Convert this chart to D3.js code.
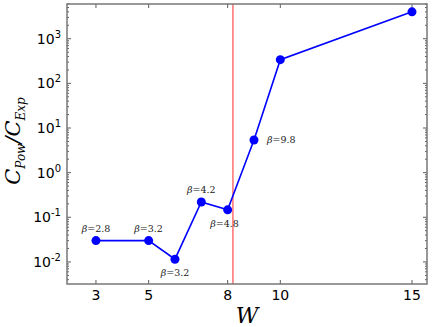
<!DOCTYPE html>
<html>
<head>
<meta charset="utf-8">
<script src="https://cdn.jsdelivr.net/npm/d3@7"></script>
<style>
body { margin: 0; background: #fff; }
svg { display: block; }
</style>
</head>
<body>
<div id="chart"></div>
<script>
// data
var wValues = [3, 5, 6, 7, 8, 9, 10, 15];
var ratioValues = [0.030, 0.030, 0.0115, 0.22, 0.147, 5.4, 340, 4000];
var betaLabels = ["2.8", "3.2", "3.2", "4.2", "4.8", "9.8", "", ""];
var labelPos = ["above", "above", "below", "above", "below", "right", "", ""];
var xTicks = [3, 5, 8, 10, 15];
var yTicks = [-2, -1, 0, 1, 2, 3];
var cutLine = 8.2;

var width = 436, height = 327;
var margin = {left: 67, right: 9, top: 4, bottom: 43};

var svg = d3.select("#chart").append("svg")
  .attr("width", width)
  .attr("height", height);

var x = d3.scaleLinear()
  .domain([1.9, 15.57])
  .range([margin.left, width - margin.right]);
var y = d3.scaleLog()
  .domain([0.0032, 6000])
  .range([height - margin.bottom, margin.top]);

var x0 = margin.left, x1 = width - margin.right;
var y0 = height - margin.bottom, y1 = margin.top;

// ticks, inward on all sides
var tickG = svg.append("g").attr("stroke", "#333").attr("stroke-width", 0.8);
xTicks.forEach(function(t) {
  tickG.append("line").attr("x1", x(t)).attr("x2", x(t)).attr("y1", y0).attr("y2", y0 - 4);
  tickG.append("line").attr("x1", x(t)).attr("x2", x(t)).attr("y1", y1).attr("y2", y1 + 4);
});
yTicks.forEach(function(e) {
  var v = Math.pow(10, e);
  tickG.append("line").attr("x1", x0).attr("x2", x0 + 4).attr("y1", y(v)).attr("y2", y(v));
  tickG.append("line").attr("x1", x1).attr("x2", x1 - 4).attr("y1", y(v)).attr("y2", y(v));
});
for (var e = -3; e <= 3; e++) {
  for (var m = 2; m <= 9; m++) {
    var v = m * Math.pow(10, e);
    if (v < y.domain()[0] || v > y.domain()[1]) continue;
    tickG.append("line").attr("x1", x0).attr("x2", x0 + 2).attr("y1", y(v)).attr("y2", y(v));
    tickG.append("line").attr("x1", x1).attr("x2", x1 - 2).attr("y1", y(v)).attr("y2", y(v));
  }
}

// tick labels
svg.append("g").selectAll("text")
  .data(xTicks)
  .enter().append("text")
  .attr("x", function(d) { return x(d); })
  .attr("y", y0 + 16)
  .attr("text-anchor", "middle")
  .attr("font-family", "DejaVu Sans")
  .attr("font-size", 14)
  .text(function(d) { return d; });

var yl = svg.append("g").selectAll("text")
  .data(yTicks)
  .enter().append("text")
  .attr("x", x0 - 6)
  .attr("y", function(d) { return y(Math.pow(10, d)) + 5; })
  .attr("text-anchor", "end")
  .attr("font-family", "DejaVu Sans")
  .attr("font-size", 14);
yl.append("tspan").text("10");
yl.append("tspan").attr("dy", -6).attr("font-size", 10).text(function(d) { return d; });

// red vertical line
svg.append("line")
  .attr("x1", x(cutLine)).attr("x2", x(cutLine))
  .attr("y1", y0).attr("y2", y1)
  .attr("stroke", "#ff7070")
  .attr("stroke-width", 1.5);

// series
var pts = wValues.map(function(w, i) { return [w, ratioValues[i]]; });
svg.append("path")
  .datum(pts)
  .attr("fill", "none")
  .attr("stroke", "#0000ff")
  .attr("stroke-width", 1.6)
  .attr("d", d3.line().x(function(d) { return x(d[0]); }).y(function(d) { return y(d[1]); }));

svg.selectAll("circle.pt")
  .data(pts)
  .enter().append("circle")
  .attr("class", "pt")
  .attr("cx", function(d) { return x(d[0]); })
  .attr("cy", function(d) { return y(d[1]); })
  .attr("r", 4.5)
  .attr("fill", "#0000ff");

// beta annotations
pts.forEach(function(d, i) {
  if (!betaLabels[i]) return;
  var px = x(d[0]), py = y(d[1]);
  var tx = px, ty = py, anchor = "middle";
  if (labelPos[i] == "above") { ty = py - 9; }
  else if (labelPos[i] == "below") { ty = py + 17; if (i == 4) tx = px - 3; }
  else { tx = px + 13; ty = py + 3; anchor = "start"; }
  var t = svg.append("text")
    .attr("x", tx).attr("y", ty)
    .attr("text-anchor", anchor)
    .attr("font-family", "DejaVu Serif")
    .attr("font-size", 9.5)
    .attr("fill", "#222");
  t.append("tspan").attr("font-style", "italic").text("\u03b2");
  t.append("tspan").text("=" + betaLabels[i]);
});

// frame
svg.append("rect")
  .attr("x", x0).attr("y", y1)
  .attr("width", x1 - x0).attr("height", y0 - y1)
  .attr("fill", "none")
  .attr("stroke", "#777")
  .attr("stroke-width", 1.5);

// axis titles
svg.append("text")
  .attr("x", (x0 + x1) / 2)
  .attr("y", height - 4)
  .attr("text-anchor", "middle")
  .attr("font-family", "DejaVu Serif")
  .attr("font-style", "italic")
  .attr("font-size", 22)
  .text("W");

var yt = svg.append("text")
  .attr("transform", "translate(20,141) rotate(-90)")
  .attr("text-anchor", "middle")
  .attr("font-family", "DejaVu Serif")
  .attr("font-style", "italic")
  .attr("font-size", 21);
yt.append("tspan").text("C");
yt.append("tspan").attr("font-size", 12).attr("dy", 5).text("Pow");
yt.append("tspan").attr("dy", -5).text("/C");
yt.append("tspan").attr("font-size", 12).attr("dy", 5).text("Exp");
</script>
</body>
</html>
